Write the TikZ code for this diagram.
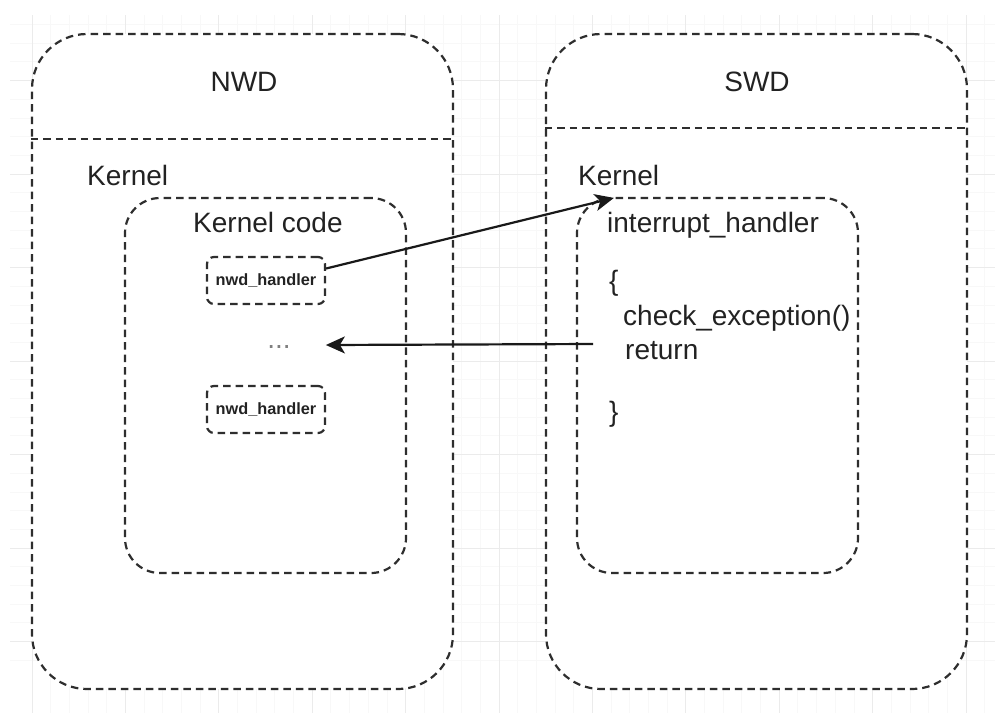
\documentclass[tikz,border=0pt]{standalone}
\usepackage{fontspec}
\setmainfont{Liberation Sans}
\usetikzlibrary{arrows.meta,calc}
\definecolor{ln}{HTML}{2E2E2E}
\definecolor{tx}{HTML}{222222}
\definecolor{gridmaj}{HTML}{EBEBEB}
\definecolor{gridmin}{HTML}{F8F8F8}
\tikzset{
  box/.style={draw=ln, fill=white, line width=2.2pt, dash pattern=on 7.5pt off 5pt,
    rounded corners=#1, inner sep=0pt},
  lbl/.style={text=tx, font=\fontsize{28}{34}\selectfont, inner sep=0pt},
  hlbl/.style={text=tx, font=\bfseries\fontsize{16.3}{19}\selectfont},
  arr/.style={draw=black!90, line width=2.2pt, -{Stealth[length=19pt,width=17pt,inset=5pt]}},
  divider/.style={draw=ln, line width=2.2pt, dash pattern=on 7.5pt off 5pt},
}
\begin{document}
\begin{tikzpicture}[x=1pt,y=-1pt]
\useasboundingbox (0,0) rectangle (995,713);
\fill[white] (0,0) rectangle (995,713);
% background grid
\foreach \x in {0,...,53}
  \draw[gridmin, line width=0.8pt] ({32+18.68*\x},15) -- ({32+18.68*\x},713);
\foreach \y in {0,...,34}
  \draw[gridmin, line width=0.8pt] (10,{80.5+18.7*\y-18.7*3}) -- (995,{80.5+18.7*\y-18.7*3});
\foreach \x in {0,...,10}
  \draw[gridmaj, line width=1pt] ({32+93.4*\x},15) -- ({32+93.4*\x},713);
\foreach \y in {0,...,6}
  \draw[gridmaj, line width=1pt] (10,{80.5+93.5*\y}) -- (995,{80.5+93.5*\y});

% outer boxes
\node[box=55pt, minimum width=421pt, minimum height=655pt] (nwd) at (242.5,361.5) {};
\node[box=55pt, minimum width=421pt, minimum height=655pt] (swd) at (756.5,361.5) {};
\draw[divider] (nwd.west |- 0,139) coordinate (d1a) -- (nwd.east |- 0,139) coordinate (d1b);
\draw[divider] (swd.west |- 0,128) coordinate (d2a) -- (swd.east |- 0,128) coordinate (d2b);

% titles
\node[lbl] (nwdt) at (244,82) {NWD};
\node[lbl] (swdt) at (757,82) {SWD};
\node[lbl, anchor=base west] (k1) at (87,185) {Kernel};
\node[lbl, anchor=base west] (k2) at (578,185) {Kernel};

% inner boxes
\node[box=35pt, minimum width=281pt, minimum height=375pt] (kc) at (265.5,385.5) {};
\node[box=35pt, minimum width=281pt, minimum height=375pt] (ih) at (717.5,385.5) {};

\node[lbl, anchor=base west] (kct) at (193,232) {Kernel code};

\node[box=7pt, minimum width=118pt, minimum height=47pt, hlbl] (h1) at (266,280.5) {nwd\_handler};
\node[box=7pt, minimum width=118pt, minimum height=47pt, hlbl] (h2) at (266,409.5) {nwd\_handler};
\node[lbl, text=gray] (dots) at (279,347) {...};

% code text
\node[lbl, anchor=base west] (iht) at (607,232) {interrupt\_handler};
\node[lbl, anchor=base west] (ob) at (609,290) {\{};
\node[lbl, anchor=base west] (ce) at (623,325) {check\_exception()};
\node[lbl, anchor=base west] (ret) at (625,359) {return};
\node[lbl, anchor=base west] (cb) at (609,421) {\}};

% connectors
\coordinate (a1s) at ($(h1.east)+(0,-12)$);
\coordinate (a1e) at ($(ih.north west)+(38,1)$);
\coordinate (a2s) at ($(ret.base west)+(-32,-15)$);
\coordinate (a2e) at ($(dots.east)+(35,-2)$);
\draw[arr] (a1s) -- (a1e);
\draw[arr] (a2s) -- (a2e);
\end{tikzpicture}
\end{document}
